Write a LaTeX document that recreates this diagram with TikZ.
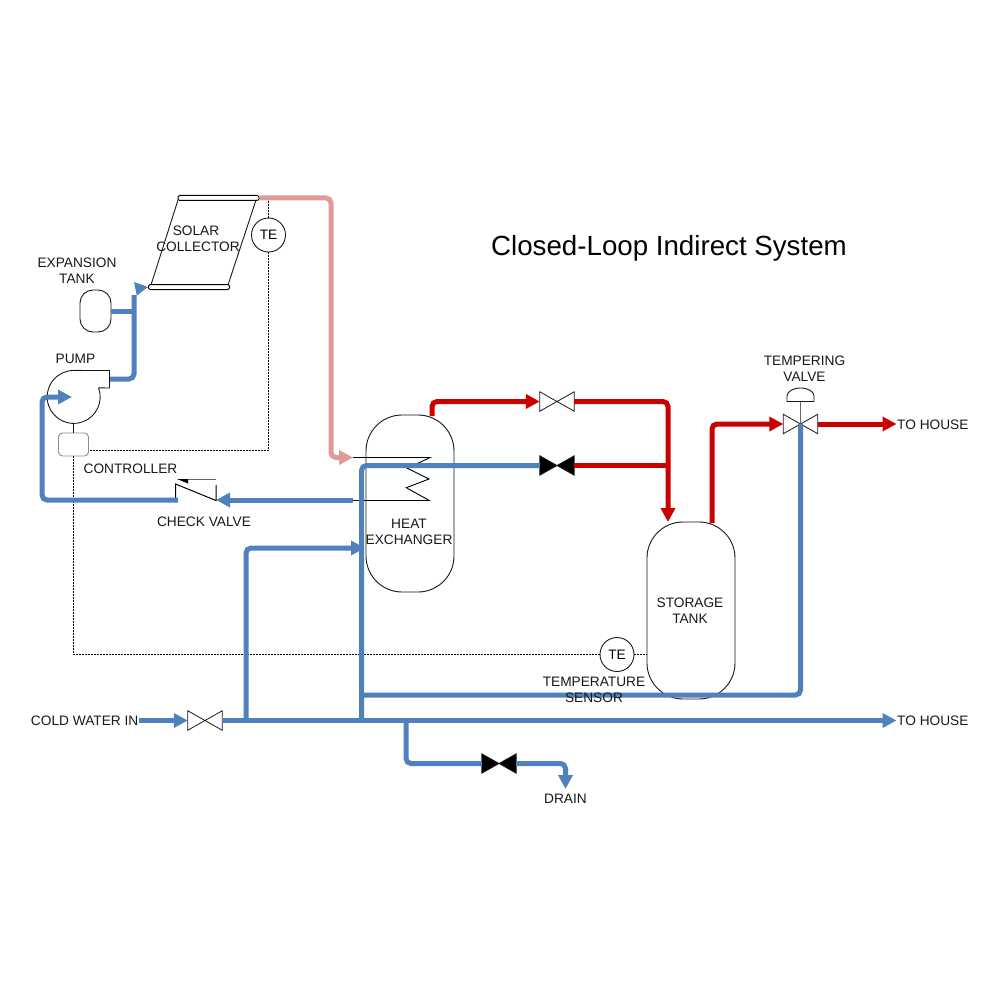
\documentclass[tikz,border=0pt]{standalone}
\usepackage{fontspec}
\setmainfont{Liberation Sans}
\usetikzlibrary{arrows.meta}
\definecolor{pipeblue}{HTML}{4F81BD}
\definecolor{pipered}{HTML}{C80000}
\definecolor{pipepink}{HTML}{DF9A9A}
\tikzset{
  thin line/.style={line width=0.9pt,draw=black!90},
  sensor line/.style={line width=1pt,draw=black,dash pattern=on 2pt off 1pt},
  pipe/.style={line width=5pt,rounded corners=5pt,line cap=butt},
  blue pipe/.style={pipe,draw=pipeblue},
  red pipe/.style={pipe,draw=pipered},
  pink pipe/.style={pipe,draw=pipepink},
  head/.style={-{Triangle[length=14pt,width=14pt]}},
  tank/.style={draw=black!90,line width=0.9pt,fill=white,rounded corners=36pt,inner sep=0pt},
  header/.style={draw=black,line width=1pt,fill=white,rounded corners=1.5pt,inner sep=0pt,minimum width=81pt,minimum height=5pt},
  te/.style={circle,draw=black!90,line width=0.9pt,fill=white,minimum size=34pt,inner sep=0pt,font=\fontsize{13.7pt}{16pt}\selectfont},
  valve box/.style={inner sep=0pt,minimum width=34pt,minimum height=19pt},
  label/.style={align=center,inner sep=0pt,font=\fontsize{13.7pt}{16pt}\selectfont,text=black!90},
}
\newcommand{\valvesym}[3]{% name, position, fill colour
  \node[valve box] (#1) at (#2) {};
  \draw[line width=0.8pt,draw=black!90,fill=#3] (#1.north west) -- (#1.south east) -- (#1.north east) -- (#1.south west) -- cycle;
}
\begin{document}
\begin{tikzpicture}[x=1pt,y=-1pt]
\useasboundingbox[fill=white] (0,0) rectangle (1000,1000);

% Controller, sensors
\node[draw=black!45,line width=0.9pt,fill=white,rounded corners=4pt,minimum width=30pt,minimum height=23pt,inner sep=0pt] (ctrl) at (73.5,444.5) {};
\node[te] (te1) at (268.5,235) {TE};
\node[te] (te2) at (617,654.5) {TE};
\node[tank,minimum width=88pt,minimum height=177pt] (hx) at (410,503.5) {};
\node[tank,minimum width=88pt,minimum height=177pt] (st) at (691,610.5) {};

% Solar collector
\node[header] (hdrtop) at (218.5,198) {};
\node[header] (hdrbot) at (189,287) {};
\draw[thin line] (178,200) -- (151,285);
\draw[thin line] (256,200) -- (228,285);

% Sensor lines
\coordinate (ctrlcorner) at (268.5,450.5);
\coordinate (tegoal) at (73.5,654.5);
\draw[sensor line] (te1.north |- hdrtop.south) -- (te1.north);
\draw[sensor line] (te1.south) -- (ctrlcorner) -- (ctrl.east |- ctrlcorner);
\draw[sensor line] (ctrl.south) -- (tegoal) -- (te2.west);
\draw[sensor line] (te2.east) -- (st.west |- te2.east);

% Expansion tank
\node[draw=black!90,line width=0.9pt,fill=white,rounded corners=13pt,minimum width=31pt,minimum height=42pt,inner sep=0pt] (exp) at (95.5,311) {};

% Pump
\node[circle,minimum size=53pt,inner sep=0pt] (pump) at (73.5,397) {};
\coordinate (pumpout) at (110,379);
\draw[thin line] (pump.20) arc[start angle=20,end angle=-270,radius=26.5pt] -- (109.5,370.5) -- (109.5,388) -- (pump.20);
\draw[thin line] (pump.south) -- (ctrl.north);

% Heat exchanger coil
\coordinate (coilin) at (353,457.5);
\coordinate (coilout) at (353,500.5);
\draw[line width=0.9pt,draw=black] (coilin) -- (430,457.5) -- (407.3,468.3) -- (429,479) -- (406.3,487.7) -- (429.3,500.5) -- (coilout);

% Valves
\valvesym{v1}{557,401.5}{white}
\valvesym{v2}{557,465.5}{black}
\valvesym{v3}{205,720.5}{white}
\valvesym{v4}{499,763.5}{black}
\valvesym{tv}{800.5,424}{white}

% Tempering actuator
\coordinate (dome) at (800.5,401.5);
\draw[line width=1.1pt,draw=black!60] (dome) -- (tv.center);
\draw[thin line,fill=white] (787,401.5) -- (787,396) arc[start angle=180,end angle=0,x radius=13.5pt,y radius=8pt] -- (814,401.5) -- cycle;

% Check valve
\coordinate (cvleft) at (178,500);
\coordinate (cvright) at (216,500);
\draw[line width=1pt,draw=black] (175.5,500) -- (175.5,484) -- (216,500.5) -- (216,485);
\draw[line width=0.8pt,draw=black!60] (178,479.5) -- (216,479.5);
\fill[black] (177,479) -- (188,479) -- (188,483.5) -- cycle;

% Pink pipe
\draw[pink pipe,head] (hdrtop.east) -| (331,440) |- (coilin);

% Loop pipes
\coordinate (inlet) at (139,720.5);
\coordinate (expj) at (134,311);
\coordinate (colbase) at (134,295);
\coordinate (colin) at (148,287);
\coordinate (loopcorner) at (42,500);
\coordinate (looptop) at (42,397);
\coordinate (pumpin) at (72,397);
\draw[blue pipe] (pumpout) -- (134,379) -- (colbase);
\fill[pipeblue] (colin) -- (134,282) -- (136.8,295.5) -- cycle;
\draw[blue pipe] (exp.east) -- (expj);
\draw[blue pipe,head] (cvleft) -- (loopcorner) -- (looptop) -- (pumpin);
\draw[blue pipe,head] (coilout |- cvright) -- (cvright);

% Red pipes
\coordinate (hxout) at (432,416);
\coordinate (redr) at (668,401.5);
\coordinate (stin) at (668,522);
\coordinate (redj) at (668,465.5);
\coordinate (stout) at (712,523);
\coordinate (redt) at (712,424);
\coordinate (house1) at (896.5,424);
\coordinate (house2) at (896.5,720.5);
\draw[red pipe,head] (hxout) |- (v1.west);
\draw[red pipe,head] (v1.east) -- (redr) -- (stin);
\draw[red pipe] (v2.east) -- (redj);
\draw[red pipe,head] (stout) -- (redt) -- (tv.west);
\draw[red pipe,head] (tv.east) -- (house1);

% Blue pipes
\coordinate (bluev) at (361.5,720.5);
\coordinate (hxblue) at (361.5,465.5);
\coordinate (branch) at (246,720.5);
\coordinate (branchtop) at (246,548);
\coordinate (hxin) at (365,548);
\coordinate (temperlow) at (800.5,695);
\coordinate (temperj) at (361.5,695);
\coordinate (drainj) at (406,720.5);
\coordinate (draincorner) at (406,763.5);
\coordinate (drainr) at (565.5,763.5);
\coordinate (drainend) at (565.5,789);
\draw[blue pipe] (v2.west) -- (hxblue) -- (bluev);
\draw[blue pipe,head] (branch) -- (branchtop) -- (hxin);
\draw[blue pipe] (tv.center) -- (temperlow) -- (temperj);
\draw[blue pipe,head] (inlet) -- (v3.west);
\draw[blue pipe,head] (v3.east) -- (house2);
\draw[blue pipe] (drainj) -- (draincorner) -- (v4.west);
\draw[blue pipe,head] (v4.east) -- (drainr) -- (drainend);

% Labels
\node[inner sep=0pt,font=\fontsize{27.7pt}{32pt}\selectfont,text=black] (title) at (669,248.5) {Closed-Loop Indirect System};
\node[label] (lsolar) at (198,239) {SOLAR\hspace*{4pt}\\COLLECTOR};
\node[label] (lexp) at (77,271) {EXPANSION\\TANK};
\node[label] (lpump) at (75.5,358.5) {PUMP};
\node[label] (lctrl) at (130.5,469) {CONTROLLER};
\node[label] (lcheck) at (204,522) {CHECK VALVE};
\node[label] (lhx) at (409,532) {HEAT\\EXCHANGER};
\node[label] (lst) at (690,611) {STORAGE\\TANK};
\node[label] (lsens) at (594,690) {TEMPERATURE\\SENSOR};
\node[label] (ltv) at (804.5,369) {TEMPERING\\VALVE};
\node[label,anchor=west] (lh1) at (897,425) {TO HOUSE};
\node[label,anchor=west] (lh2) at (897,721) {TO HOUSE};
\node[label,anchor=east] (lcold) at (138.5,721) {COLD WATER IN};
\node[label] (ldrain) at (565.5,799) {DRAIN};
\end{tikzpicture}
\end{document}
